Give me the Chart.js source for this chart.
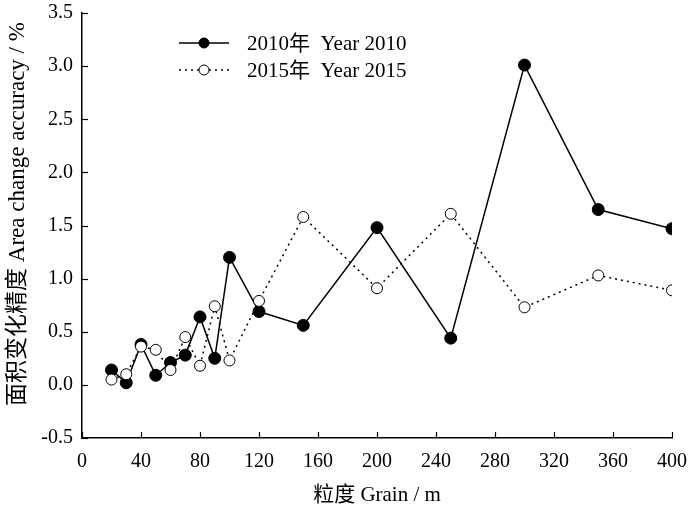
<!DOCTYPE html>
<html>
<head>
<meta charset="utf-8">
<script src="https://cdn.jsdelivr.net/npm/chart.js@4/dist/chart.umd.min.js"></script>
<style>
  html, body { margin: 0; padding: 0; background: #fff; }
  #wrap { width: 700px; height: 509px; }
</style>
</head>
<body>
<div id="wrap"><canvas id="grainChart"></canvas></div>
<script>
const grain = [20, 30, 40, 50, 60, 70, 80, 90, 100, 120, 150, 200, 250, 300, 350, 400];
const year2010 = [0.14, 0.02, 0.38, 0.09, 0.21, 0.28, 0.64, 0.25, 1.20, 0.69, 0.56, 1.48, 0.44, 3.01, 1.65, 1.47];
const year2015 = [0.05, 0.10, 0.36, 0.33, 0.14, 0.45, 0.18, 0.74, 0.23, 0.79, 1.58, 0.91, 1.61, 0.73, 1.03, 0.89];
const seriesNames = ['2010年  Year 2010', '2015年  Year 2015'];
const yTitle = '面积变化精度 Area change accuracy / %';

const FONT = "'Liberation Serif', 'Noto Sans CJK SC', serif";

// inward tick marks on both axes
const innerTicks = {
    id: 'innerTicks',
    afterDraw(chart) {
        const ctx = chart.ctx;
        const area = chart.chartArea;
        ctx.save();
        ctx.strokeStyle = '#000';
        ctx.lineWidth = 1.2;
        chart.scales.x.ticks.forEach(t => {
            const px = Math.round(chart.scales.x.getPixelForValue(t.value)) + 0.5;
            ctx.beginPath();
            ctx.moveTo(px, area.bottom);
            ctx.lineTo(px, area.bottom - 6);
            ctx.stroke();
        });
        chart.scales.y.ticks.forEach(t => {
            const py = Math.round(chart.scales.y.getPixelForValue(t.value)) + 0.5;
            ctx.beginPath();
            ctx.moveTo(area.left, py);
            ctx.lineTo(area.left + 6, py);
            ctx.stroke();
        });
        ctx.restore();
    }
};

// legend inside the plot + y axis title (sits a little above centre in the original)
const innerLegend = {
    id: 'innerLegend',
    afterDraw(chart) {
        const ctx = chart.ctx;
        ctx.save();
        ctx.font = '21px ' + FONT;
        ctx.textBaseline = 'middle';
        ctx.fillStyle = '#000';
        const rows = [43, 70];
        chart.data.datasets.slice().reverse().forEach((ds, i) => {
            const y = rows[i];
            ctx.strokeStyle = '#000';
            ctx.lineWidth = 1.5;
            ctx.setLineDash(ds.borderDash || []);
            ctx.beginPath();
            ctx.moveTo(179, y);
            ctx.lineTo(229, y);
            ctx.stroke();
            ctx.setLineDash([]);
            ctx.beginPath();
            ctx.arc(204, y, 5, 0, Math.PI * 2);
            ctx.fillStyle = ds.pointBackgroundColor;
            ctx.fill();
            ctx.lineWidth = 1;
            ctx.stroke();
            ctx.fillStyle = '#000';
            ctx.fillText(ds.label, 247, y + 1);
        });

        ctx.translate(18, 214);
        ctx.rotate(-Math.PI / 2);
        ctx.font = '23px ' + FONT;
        ctx.textAlign = 'center';
        ctx.fillText(yTitle, 0, 0);
        ctx.restore();
    }
};

const ctx1 = document.getElementById('grainChart').getContext('2d');
const grainChart = new Chart(ctx1, {
    type: 'line',
    data: {
        datasets: [{
            label: seriesNames[1],
            data: grain.map((g, i) => ({ x: g, y: year2015[i] })),
            borderColor: '#000',
            borderWidth: 1.5,
            borderDash: [2, 4],
            fill: false,
            tension: 0,
            pointRadius: 5.5,
            pointBorderWidth: 1,
            pointBorderColor: '#000',
            pointBackgroundColor: '#fff'
        }, {
            label: seriesNames[0],
            data: grain.map((g, i) => ({ x: g, y: year2010[i] })),
            borderColor: '#000',
            borderWidth: 1.5,
            fill: false,
            tension: 0,
            pointRadius: 6,
            pointBorderWidth: 1,
            pointBorderColor: '#000',
            pointBackgroundColor: '#000'
        }]
    },
    options: {
        responsive: true,
        maintainAspectRatio: false,
        animation: false,
        layout: { padding: { top: 13, right: 28, left: 0, bottom: 0 } },
        plugins: {
            legend: { display: false },
            tooltip: { enabled: false }
        },
        scales: {
            x: {
                type: 'linear',
                min: 0,
                max: 400,
                afterFit(scale) { scale.height = 71; },
                grid: { display: true, drawOnChartArea: false, drawTicks: false },
                border: { display: true, color: '#000', width: 1.5 },
                ticks: {
                    stepSize: 40,
                    padding: 12,
                    color: '#000',
                    font: { family: FONT, size: 20 },
                    maxRotation: 0
                },
                title: {
                    display: true,
                    text: '粒度 Grain / m',
                    color: '#000',
                    font: { family: FONT, size: 21 },
                    padding: { top: 0, bottom: 1 }
                }
            },
            y: {
                min: -0.5,
                max: 3.5,
                afterFit(scale) {
                    scale.width = 82;
                    scale.paddingTop = 0;
                    scale.paddingBottom = 0;
                },
                grid: { display: true, drawOnChartArea: false, drawTicks: false },
                border: { display: true, color: '#000', width: 1.5 },
                ticks: {
                    stepSize: 0.5,
                    padding: 9,
                    color: '#000',
                    font: { family: FONT, size: 20 },
                    callback: v => v.toFixed(1)
                }
            }
        }
    },
    plugins: [innerTicks, innerLegend]
});
</script>
</body>
</html>
